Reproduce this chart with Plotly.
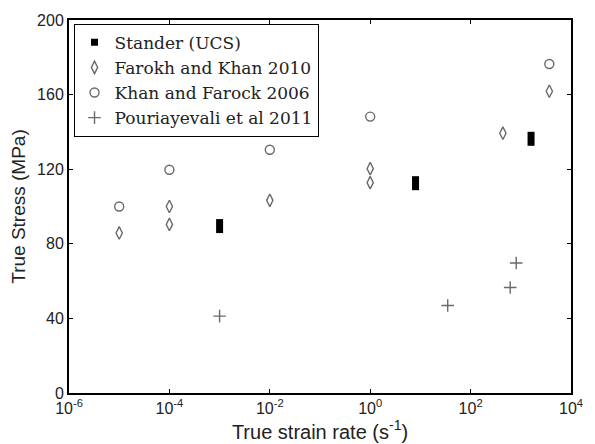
import plotly.graph_objects as go

# Strain rate (1/s) and true stress (MPa) for each data source
stander_rate = [1e-3, 8.0, 1600]
stander_stress = [89.5, 112.5, 136.3]

farokh_rate = [1e-5, 1e-4, 1e-4, 1e-2, 1.0, 1.0, 440, 3700]
farokh_stress = [85.8, 90.4, 100.0, 103.3, 112.8, 120.3, 139.3, 161.8]

khan_rate = [1e-5, 1e-4, 1e-2, 1.0, 3700]
khan_stress = [100.0, 119.7, 130.4, 148.2, 176.4]

pouri_rate = [1e-3, 35, 615, 810]
pouri_stress = [41.2, 46.9, 56.6, 69.7]

x_tickvals = [1e-6, 1e-4, 1e-2, 1e0, 1e2, 1e4]
x_ticktext = ["10<sup>-6</sup>", "10<sup>-4</sup>", "10<sup>-2</sup>",
              "10<sup>0</sup>", "10<sup>2</sup>", "10<sup>4</sup>"]
y_tickvals = [0, 40, 80, 120, 160, 200]

grey = "#6a6a6a"
sans = "Liberation Sans, Arial, sans-serif"

fig = go.Figure()

# Stander points drawn as thick vertical bars; a separate empty trace gives the legend square
fig.add_trace(go.Scatter(
    x=stander_rate, y=stander_stress, mode="markers", showlegend=False,
    marker=dict(symbol="line-ns", size=10, line=dict(color="black", width=7)),
))
fig.add_trace(go.Scatter(
    x=[None], y=[None], mode="markers", name="Stander (UCS)",
    marker=dict(symbol="square", size=7, color="black"),
))
fig.add_trace(go.Scatter(
    x=farokh_rate, y=farokh_stress, mode="markers", name="Farokh and Khan 2010",
    marker=dict(symbol="diamond-tall-open", size=9, color=grey, line=dict(width=1.4)),
))
fig.add_trace(go.Scatter(
    x=khan_rate, y=khan_stress, mode="markers", name="Khan and Farock 2006",
    marker=dict(symbol="circle-open", size=9, color=grey, line=dict(width=1.4)),
))
fig.add_trace(go.Scatter(
    x=pouri_rate, y=pouri_stress, mode="markers", name="Pouriayevali et al 2011",
    marker=dict(symbol="cross-thin-open", size=9, color=grey, line=dict(width=1.4, color=grey)),
))

axis_common = dict(
    showline=True, linecolor="black", linewidth=2, mirror="ticks",
    ticks="inside", ticklen=4, tickcolor="black", tickwidth=1,
    showgrid=False, zeroline=False,
    tickfont=dict(family=sans, size=16, color="#222"),
)

fig.update_xaxes(
    type="log", range=[-6, 4], tickvals=x_tickvals, ticktext=x_ticktext,
    title=dict(text="True strain rate (s<sup>-1</sup>)", standoff=0,
               font=dict(family=sans, size=20, color="#222")),
    **axis_common,
)
fig.update_yaxes(
    range=[0, 200], tickvals=y_tickvals,
    title=dict(text="True Stress (MPa)", standoff=6,
               font=dict(family=sans, size=19, color="#222")),
    **axis_common,
)

fig.update_layout(
    width=595, height=444,
    margin=dict(l=69, r=13, t=19, b=51),
    paper_bgcolor="white", plot_bgcolor="white",
    legend=dict(
        x=0.009, y=0.99, xanchor="left", yanchor="top",
        bgcolor="white", bordercolor="black", borderwidth=1,
        font=dict(family="DejaVu Serif, serif", size=17, color="#222"),
        itemwidth=30, tracegroupgap=0,
    ),
)

fig.write_html("out.html")
